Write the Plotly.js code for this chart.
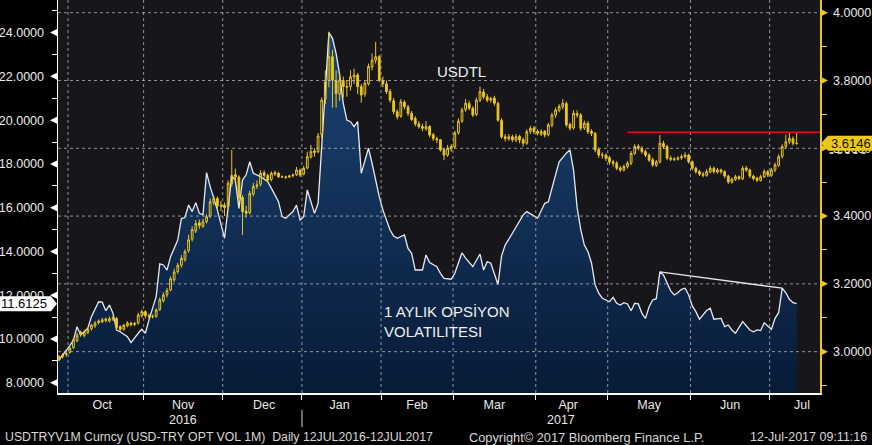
<!DOCTYPE html>
<html><head><meta charset="utf-8">
<script src="https://cdn.plot.ly/plotly-3.0.1.min.js"></script>
<style>html,body{margin:0;padding:0;background:#000;} #chart{width:872px;height:445px;}</style>
</head><body><div id="chart"></div>
<script>
// ---- DATA ----
// trading-day offsets (weekdays) counted from 2016-10-03
const DAY0 = '2016-10-03';
const FX_FIRST_DAY = -3;   // USDTRY candles start 2016-09-28 (one per weekday)

// USD-TRY 1M option volatility (left axis)
const volDay = [-3,-1,0,1,2,3,5,6,8,9,10,11,12,13,14,16,17,19,20,21,22,24,25,26,27,28,30,31,32,33,34,35,36,37,38,39,41,43,44,45,46,47,48,49,50,51,53,55,56,58,59,60,62,63,64,65,66,68,69,70,71,72,73,74,75,76,77,78,79,80,81,82,83,84,86,87,89,90,91,93,94,95,96,98,99,100,102,103,104,106,107,109,110,112,114,115,116,117,119,120,121,123,124,126,127,130,132,133,135,136,138,139,140,141,142,143,144,145,146,147,148,150,151,152,153,154,155,156,157,158,159,160,161,162,163,164,165,166,167,168,169,170,171,172,173,174,175,176,177,178,179,181,182,183,184,185,186,187,189,190,191,192,193,195,196,197,198,199,200,201,202];
const volVal = [9.05,9.45,9.70,9.95,10.56,10.18,10.49,11.02,11.70,11.68,11.29,11.55,11.17,10.41,10.33,10.10,9.83,10.26,10.44,10.26,10.87,11.93,13.43,13.38,13.15,13.76,14.52,15.50,15.55,16.12,15.82,16.23,15.74,15.67,17.60,16.96,15.90,14.60,16.05,17.42,17.27,15.97,17.27,17.50,18.10,17.57,17.42,17.19,16.89,16.27,15.59,15.52,15.82,16.12,15.44,15.59,16.81,15.74,16.20,18.64,21.53,24.00,23.74,23.05,22.07,20.77,20.00,19.93,19.70,19.93,17.57,18.18,18.72,18.03,16.50,15.90,14.98,14.70,14.60,14.75,14.14,13.91,13.15,13.15,13.84,13.49,13.30,13.00,12.77,12.73,13.00,13.94,13.69,13.30,13.88,13.15,13.53,13.46,12.49,13.80,14.29,14.83,15.13,15.67,15.82,15.52,16.20,16.27,17.50,18.10,18.49,18.64,17.72,16.00,15.00,14.29,13.99,13.46,12.47,12.09,11.86,11.70,11.90,11.63,11.55,11.66,11.60,11.29,11.63,11.60,11.17,10.94,11.47,11.78,11.84,13.07,12.92,12.57,12.20,12.01,12.11,12.27,12.32,12.01,11.51,11.25,10.90,11.10,11.30,11.40,10.90,10.94,10.56,10.64,10.41,10.26,10.56,10.79,10.41,10.33,10.41,10.38,10.74,10.44,10.94,11.20,12.32,12.11,11.81,11.66,11.6125];

// USDTRY daily candles (right axis)
const fxOpen = [2.975,2.985,2.992,
 2.998,3.012,3.032,3.058,3.048,3.056,3.068,3.076,3.086,3.088,3.096,3.090,3.096,3.098,3.074,3.066,3.076,3.084,3.080,3.084,3.106,
 3.118,3.106,3.103,3.104,3.124,3.150,3.168,3.182,3.212,3.236,3.255,3.272,3.298,3.332,3.356,3.380,3.370,3.384,3.400,3.440,3.452,3.432,
 3.432,3.428,3.495,3.522,3.515,3.455,3.415,3.410,3.465,3.488,3.494,3.528,3.520,3.508,3.524,3.526,3.516,3.514,3.515,3.519,3.522,3.536,
 3.524,3.542,3.574,3.592,3.590,3.640,3.745,3.800,3.870,3.800,3.760,3.800,3.780,3.782,3.810,3.816,3.782,3.760,3.790,3.840,3.860,3.870,
 3.800,3.790,3.768,3.740,3.708,3.695,3.736,3.722,3.703,3.688,3.672,3.664,3.657,3.664,3.640,3.628,3.625,3.596,3.580,3.598,
 3.604,3.646,3.680,3.714,3.732,3.718,3.700,3.742,3.766,3.752,3.742,3.748,3.732,3.682,3.634,3.628,3.634,3.624,3.635,3.625,3.615,3.650,3.660,
 3.650,3.642,3.650,3.640,3.668,3.698,3.712,3.722,3.732,3.670,3.660,3.702,3.698,3.660,3.674,3.650,3.644,3.596,3.580,3.580,
 3.572,3.560,3.556,3.542,3.536,3.546,3.556,3.585,3.606,3.600,3.590,3.580,3.566,3.550,3.560,3.614,3.605,3.571,3.567,3.568,3.572,3.575,3.580,
 3.560,3.541,3.531,3.524,3.520,3.530,3.541,3.530,3.536,3.531,3.518,3.500,3.508,3.516,3.510,3.542,3.536,3.518,3.512,3.505,3.516,3.531,
 3.520,3.536,3.550,3.576,3.606,3.620,3.628,3.615];
const fxHigh = [2.990,2.995,3.002,
 3.015,3.040,3.055,3.062,3.063,3.072,3.082,3.090,3.095,3.100,3.101,3.104,3.106,3.102,3.078,3.082,3.090,3.088,3.088,3.115,3.124,
 3.122,3.112,3.110,3.128,3.160,3.175,3.188,3.222,3.245,3.262,3.285,3.302,3.345,3.370,3.388,3.390,3.392,3.405,3.452,3.462,3.458,3.445,
 3.440,3.505,3.595,3.540,3.520,3.462,3.430,3.475,3.498,3.505,3.535,3.535,3.525,3.532,3.534,3.530,3.520,3.519,3.522,3.525,3.545,3.540,
 3.548,3.590,3.610,3.600,3.645,3.750,3.830,3.944,3.890,3.830,3.820,3.812,3.800,3.830,3.835,3.822,3.790,3.800,3.850,3.880,3.914,3.875,
 3.812,3.800,3.775,3.748,3.715,3.745,3.742,3.728,3.710,3.695,3.680,3.672,3.680,3.668,3.645,3.634,3.628,3.600,3.610,3.612,
 3.652,3.688,3.720,3.745,3.740,3.724,3.750,3.782,3.775,3.760,3.752,3.755,3.738,3.688,3.642,3.642,3.640,3.642,3.640,3.632,3.656,3.666,3.665,
 3.656,3.656,3.654,3.675,3.705,3.720,3.730,3.745,3.738,3.676,3.712,3.712,3.704,3.682,3.680,3.656,3.648,3.602,3.588,3.585,
 3.578,3.566,3.562,3.548,3.552,3.562,3.592,3.612,3.612,3.606,3.596,3.585,3.572,3.566,3.639,3.622,3.610,3.578,3.574,3.576,3.582,3.588,3.584,
 3.564,3.546,3.536,3.530,3.538,3.548,3.546,3.542,3.540,3.535,3.522,3.514,3.522,3.520,3.548,3.548,3.540,3.522,3.516,3.522,3.538,3.536,
 3.542,3.558,3.582,3.612,3.640,3.645,3.635,3.646];
const fxLow = [2.972,2.980,2.985,
 2.994,3.008,3.028,3.044,3.042,3.052,3.062,3.070,3.080,3.084,3.086,3.086,3.090,3.066,3.060,3.062,3.072,3.074,3.075,3.080,3.100,
 3.098,3.096,3.098,3.100,3.120,3.145,3.160,3.178,3.205,3.230,3.248,3.265,3.292,3.325,3.350,3.362,3.365,3.378,3.395,3.432,3.420,3.415,
 3.400,3.422,3.488,3.500,3.440,3.344,3.395,3.405,3.458,3.480,3.488,3.512,3.500,3.502,3.518,3.512,3.512,3.510,3.512,3.514,3.518,3.515,
 3.520,3.538,3.570,3.575,3.585,3.630,3.730,3.780,3.720,3.720,3.740,3.750,3.752,3.770,3.790,3.760,3.735,3.752,3.785,3.830,3.850,3.795,
 3.780,3.760,3.735,3.700,3.685,3.690,3.715,3.695,3.680,3.665,3.658,3.650,3.652,3.632,3.622,3.615,3.590,3.565,3.575,3.590,
 3.600,3.640,3.675,3.708,3.712,3.692,3.695,3.736,3.745,3.736,3.735,3.726,3.678,3.628,3.620,3.622,3.618,3.618,3.615,3.605,3.610,3.642,3.642,
 3.638,3.636,3.632,3.635,3.662,3.690,3.706,3.715,3.662,3.652,3.655,3.690,3.652,3.654,3.642,3.636,3.588,3.572,3.570,3.562,
 3.552,3.546,3.535,3.530,3.532,3.540,3.550,3.580,3.594,3.584,3.574,3.560,3.545,3.545,3.555,3.598,3.565,3.562,3.562,3.564,3.566,3.570,3.555,
 3.535,3.525,3.518,3.514,3.516,3.526,3.526,3.525,3.524,3.512,3.495,3.496,3.504,3.505,3.506,3.530,3.512,3.505,3.500,3.502,3.512,3.515,
 3.516,3.530,3.545,3.570,3.600,3.612,3.608,3.610];
const fxClose = [2.985,2.990,2.995,
 3.010,3.035,3.048,3.050,3.058,3.066,3.078,3.084,3.090,3.094,3.092,3.097,3.100,3.072,3.066,3.078,3.084,3.080,3.083,3.108,3.118,
 3.106,3.103,3.104,3.123,3.153,3.167,3.180,3.215,3.235,3.255,3.275,3.295,3.330,3.360,3.378,3.372,3.383,3.398,3.442,3.452,3.430,3.430,
 3.425,3.497,3.520,3.515,3.455,3.413,3.408,3.467,3.487,3.492,3.526,3.520,3.506,3.526,3.528,3.516,3.516,3.515,3.518,3.521,3.536,3.521,
 3.541,3.575,3.590,3.588,3.636,3.742,3.796,3.870,3.801,3.762,3.801,3.782,3.782,3.811,3.816,3.782,3.757,3.792,3.841,3.860,3.870,3.801,
 3.790,3.767,3.742,3.708,3.693,3.737,3.723,3.703,3.685,3.672,3.664,3.659,3.664,3.639,3.629,3.625,3.595,3.580,3.600,3.605,
 3.645,3.680,3.713,3.733,3.718,3.698,3.742,3.767,3.752,3.742,3.747,3.733,3.683,3.634,3.629,3.634,3.625,3.634,3.625,3.615,3.649,3.659,3.649,
 3.644,3.649,3.639,3.669,3.698,3.713,3.723,3.733,3.669,3.659,3.703,3.698,3.659,3.674,3.649,3.644,3.595,3.580,3.580,3.571,
 3.560,3.556,3.541,3.536,3.546,3.556,3.585,3.605,3.600,3.590,3.580,3.565,3.551,3.560,3.615,3.605,3.571,3.568,3.568,3.571,3.575,3.580,3.560,
 3.541,3.531,3.524,3.521,3.531,3.541,3.531,3.536,3.531,3.518,3.501,3.509,3.516,3.511,3.541,3.536,3.518,3.511,3.506,3.516,3.531,3.521,
 3.536,3.551,3.575,3.605,3.619,3.629,3.615,3.6146];

// axis ticks / labels
const volTicks = [8,10,12,14,16,18,20,22,24];
const fxTicks = [3.0,3.2,3.4,3.6,3.8,4.0];
const monthStarts = ['2016-10-01','2016-11-01','2016-12-01','2017-01-01','2017-02-01','2017-03-01','2017-04-01','2017-05-01','2017-06-01','2017-07-01'];
const lastVol = 11.6125, lastFx = 3.6146;
const resistanceLevel = 3.6475, resistanceStartDay = 155;
const trendFromDay = 164, trendToDay = 198;
const labelFx = 'USDTL';
const labelVol = '1 AYLIK OPSİYON<br>VOLATILITESI';
const footerLeft = 'USDTRYV1M Curncy (USD-TRY OPT VOL 1M)  Daily 12JUL2016-12JUL2017';
const footerMid = 'Copyright© 2017 Bloomberg Finance L.P.';
const footerRight = '12-Jul-2017 09:11:16';

// ---- helpers ----
function tradingDate(i, time) {
  const p = DAY0.split('-').map(Number);
  const d = new Date(Date.UTC(p[0], p[1]-1, p[2]));
  const step = i >= 0 ? 1 : -1; let n = Math.abs(i);
  while (n > 0) { d.setUTCDate(d.getUTCDate()+step); const w = d.getUTCDay(); if (w !== 0 && w !== 6) n--; }
  return d.toISOString().slice(0,10) + ' ' + (time || '12:00');
}
function firstWeekday(s) {
  const p = s.split('-').map(Number);
  const d = new Date(Date.UTC(p[0], p[1]-1, p[2]));
  while (d.getUTCDay() === 0 || d.getUTCDay() === 6) d.setUTCDate(d.getUTCDate()+1);
  return d.toISOString().slice(0,10) + ' 00:00';
}

const volX = volDay.map(i => tradingDate(i));
const fxX = fxOpen.map((_, k) => tradingDate(k + FX_FIRST_DAY));

const FONT = '"Liberation Sans", Arial, sans-serif';
const YEL = '#ecc81c';
const GRID = 'rgba(190,190,190,0.75)';

const traces = [
  { type:'scatter', mode:'lines', x: volX, y: volVal, yaxis:'y', xaxis:'x',
    fill:'tozeroy', line:{color:'#e6eaf0', width:1.3},
    fillgradient:{type:'vertical', start:7.5, stop:24, colorscale:[[0,'#081b38'],[1,'#1c4474']]},
    hoverinfo:'skip' },
  { type:'candlestick', x: fxX, open: fxOpen, high: fxHigh, low: fxLow, close: fxClose,
    yaxis:'y2', xaxis:'x', whiskerwidth:0,
    increasing:{line:{color:YEL, width:1}, fillcolor:'rgba(0,0,0,0)'},
    decreasing:{line:{color:YEL, width:1}, fillcolor:YEL},
    hoverinfo:'skip' }
];

const shapes = [];
// vertical gridlines at month boundaries
monthStarts.forEach(m => shapes.push({type:'line', xref:'x', yref:'paper', x0:firstWeekday(m), x1:firstWeekday(m), y0:0, y1:1,
  line:{color:GRID, width:1, dash:'3px,3px'}, layer:'above'}));
// horizontal gridlines for right axis
fxTicks.forEach(v => shapes.push({type:'line', xref:'paper', yref:'y2', x0:0, x1:1, y0:v, y1:v,
  line:{color:GRID, width:1, dash:'3px,3px'}, layer:'above'}));
// left axis triangles
volTicks.forEach(v => shapes.push({type:'path', xref:'paper', yref:'y', xsizemode:'pixel', ysizemode:'pixel',
  xanchor:0, yanchor:v, path:'M -1 -3.5 L -1 3.5 L -8 0 Z', fillcolor:'#ffffff', line:{width:0}, layer:'above'}));
// right axis triangles
fxTicks.forEach(v => shapes.push({type:'path', xref:'paper', yref:'y2', xsizemode:'pixel', ysizemode:'pixel',
  xanchor:1, yanchor:v, path:'M 1 -3.5 L 1 3.5 L 8 0 Z', fillcolor:YEL, line:{width:0}, layer:'above'}));
// resistance line
shapes.push({type:'line', xref:'x', yref:'y2', x0:tradingDate(resistanceStartDay), x1:'2017-07-21 00:00',
  y0:resistanceLevel, y1:resistanceLevel, line:{color:'#d41414', width:1.5}, layer:'above'});
// vol trendline
shapes.push({type:'line', xref:'x', yref:'y', x0:tradingDate(trendFromDay), x1:tradingDate(trendToDay),
  y0:volVal[volDay.indexOf(trendFromDay)], y1:volVal[volDay.indexOf(trendToDay)], line:{color:'#e6e6e6', width:1.3}, layer:'above'});
// last value tags
shapes.push({type:'path', xref:'paper', yref:'y', xsizemode:'pixel', ysizemode:'pixel', xanchor:0, yanchor:lastVol,
  path:'M -1 0 L -7 7.5 L -58 7.5 L -58 -7.5 L -7 -7.5 Z', fillcolor:'#ffffff', line:{width:0}, layer:'above'});
shapes.push({type:'path', xref:'paper', yref:'y2', xsizemode:'pixel', ysizemode:'pixel', xanchor:1, yanchor:lastFx,
  path:'M 1 0 L 8 7.5 L 53 7.5 L 53 -7.5 L 8 -7.5 Z', fillcolor:YEL, line:{width:0}, layer:'above'});
shapes.push({type:'line', xref:'paper', yref:'paper', x0:1.0125, x1:1.061, y0:0.611, y1:0.611,
  line:{color:'#ffffff', width:1.5, dash:'4px,4px'}, layer:'above'});
// year separator
shapes.push({type:'line', xref:'paper', yref:'paper', x0:0.3202, x1:0.3202, y0:-0.043, y1:-0.087,
  line:{color:'#cfcfcf', width:1}});

const annotations = [
  {xref:'paper', yref:'y', x:0, y:lastVol, xanchor:'right', yanchor:'middle', xshift:-9, text:lastVol.toFixed(4),
   showarrow:false, font:{family:FONT, size:13, color:'#000'}},
  {xref:'paper', yref:'y2', x:1, y:lastFx, xanchor:'left', yanchor:'middle', xshift:9, text:lastFx.toFixed(4),
   showarrow:false, font:{family:FONT, size:13, color:'#111'}},
  {xref:'paper', yref:'paper', x:0.530, y:0.819, text:labelFx, showarrow:false, xanchor:'center', yanchor:'middle',
   font:{family:FONT, size:15, color:'#f0f0f0'}},
  {xref:'paper', yref:'paper', x:0.425, y:0.181, text:labelVol, showarrow:false, xanchor:'left', yanchor:'middle', align:'left',
   font:{family:FONT, size:15, color:'#f0f0f0'}},
  {xref:'paper', yref:'paper', x:0.164, y:-0.068, text:'2016', showarrow:false, xanchor:'center', yanchor:'middle',
   font:{family:FONT, size:12.5, color:'#e8e8e8'}},
  {xref:'paper', yref:'paper', x:0.660, y:-0.068, text:'2017', showarrow:false, xanchor:'center', yanchor:'middle',
   font:{family:FONT, size:12.5, color:'#e8e8e8'}},
  {xref:'paper', yref:'paper', x:-0.0722, y:-0.112, text:footerLeft, showarrow:false, xanchor:'left', yanchor:'middle',
   font:{family:FONT, size:12.3, color:'#d8d8d8'}},
  {xref:'paper', yref:'paper', x:0.5367, y:-0.112, text:footerMid, showarrow:false, xanchor:'left', yanchor:'middle',
   font:{family:FONT, size:12.8, color:'#d8d8d8'}},
  {xref:'paper', yref:'paper', x:1.0643, y:-0.112, text:footerRight, showarrow:false, xanchor:'right', yanchor:'middle',
   font:{family:FONT, size:12.5, color:'#d8d8d8'}}
];

const layout = {
  width:872, height:445, margin:{l:58, r:52, t:0, b:52, pad:0},
  paper_bgcolor:'#000000', plot_bgcolor:'#16161b',
  showlegend:false, hovermode:false, dragmode:false,
  font:{family:FONT, color:'#e8e8e8', size:12.5},
  xaxis:{type:'date', range:['2016-09-28 05:00','2017-07-21 00:00'], rangebreaks:[{bounds:['sat','mon']}],
    tick0:'2016-10-01', dtick:'M1', tickformat:'%b', ticklabelmode:'period', showgrid:false, zeroline:false,
    ticks:'outside', ticklen:5, tickcolor:'#ffffff', tickwidth:1, showline:true, linecolor:'#ffffff', linewidth:1.5,
    ticklabelstandoff:-6,
    tickfont:{family:FONT, size:12.5, color:'#e8e8e8'}, rangeslider:{visible:false}, fixedrange:true},
  yaxis:{range:[7.53,25.49], tick0:8, dtick:2, tickformat:'.4f', ticks:'', showgrid:false, zeroline:false,
    showline:true, linecolor:'#ffffff', linewidth:1.5, ticklabelstandoff:10,
    tickfont:{family:FONT, size:12.5, color:'#ececec'}, fixedrange:true,
    minor:{dtick:1, tick0:8, ticks:'outside', ticklen:5, tickcolor:'#ffffff', tickwidth:1, showgrid:false}},
  yaxis2:{overlaying:'y', side:'right', range:[2.878,4.0375], tick0:3, dtick:0.2, tickformat:'.4f', ticks:'',
    showgrid:false, zeroline:false, showline:true, linecolor:YEL, linewidth:1.5, ticklabelstandoff:9,
    tickfont:{family:FONT, size:12.5, color:'#ececec'}, fixedrange:true,
    minor:{dtick:0.1, tick0:3, ticks:'outside', ticklen:5, tickcolor:YEL, tickwidth:1, showgrid:false}},
  shapes:shapes, annotations:annotations
};

Plotly.newPlot('chart', traces, layout, {staticPlot:true, displayModeBar:false});
</script></body></html>
